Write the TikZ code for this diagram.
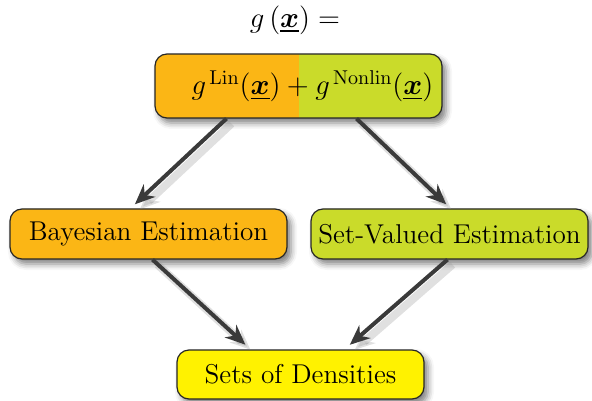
\documentclass[tikz,border=0pt]{standalone}
\usepackage{amsmath, amssymb}
\usepackage{bm}
\usepackage{tikz}
\usetikzlibrary{arrows.meta}
\usetikzlibrary{shadows.blur}
\usetikzlibrary{positioning}

\definecolor{linorange}{HTML}{FBB615}
\definecolor{nonlingreen}{HTML}{CADB2A}
\definecolor{densyellow}{HTML}{FFF200}
\definecolor{flowgray}{HTML}{3A3A3A}

\tikzset{
  estbox/.style={draw=black!85, line width=0.6pt, rounded corners=6pt,
    blur shadow={shadow xshift=2pt, shadow yshift=-2.5pt, shadow opacity=50, shadow blur radius=3pt},
    minimum width=138.5pt, minimum height=25pt, inner sep=0pt,
    font=\fontsize{13.6}{16}\selectfont},
  flow/.style={draw=flowgray, line width=2pt, -{Stealth[length=10pt,width=8.5pt]},
    preaction={draw=black!40, opacity=.3, line width=4pt,
      transform canvas={shift={(2.5pt,-2.5pt)}}}}
}

\begin{document}
\begin{tikzpicture}[x=0.5pt,y=-0.5pt]
        \useasboundingbox (0,0) rectangle (592,400);
        % heading
        \node[font=\fontsize{13.6}{16}\selectfont] (head) at (295,20) {$g\,(\underline{\bm{x}}) =$};
        % split box: linear + nonlinear part
        \node[estbox, minimum width=143.5pt, minimum height=32pt, font=\fontsize{13.9}{16}\selectfont,
          path picture={
            \fill[linorange, sharp corners] (path picture bounding box.south west) rectangle (path picture bounding box.north);
            \fill[nonlingreen, sharp corners] (path picture bounding box.south) rectangle (path picture bounding box.north east);
          }] (split) at (298.5,86)
          {\hspace*{14pt}$g^{\,\mathrm{Lin}}(\underline{\bm{x}}) + g^{\,\mathrm{Nonlin}}(\underline{\bm{x}})$};
        % two estimators
        \node[estbox, fill=linorange] (bayes) at (148.5,234) {Bayesian Estimation};
        \node[estbox, fill=nonlingreen] (setval) at (449.5,234) {Set-Valued Estimation};
        % result
        \node[estbox, fill=densyellow, minimum width=123.5pt, minimum height=24.5pt] (dens) at (300.5,374.5) {Sets of Densities};
        % arrows
        \draw[flow, shorten >=3pt] ([xshift=-36pt]split.south) -- ([xshift=-9pt]bayes.north);
        \draw[flow, shorten >=3pt] ([xshift=29pt]split.south) -- ([xshift=0.5pt]setval.north);
        \draw[flow, shorten >=3.5pt] ([xshift=2pt]bayes.south) -- ([xshift=-25pt]dens.north);
        \draw[flow, shorten >=3.5pt] ([xshift=-1pt]setval.south) -- ([xshift=22pt]dens.north);
\end{tikzpicture}
\end{document}
